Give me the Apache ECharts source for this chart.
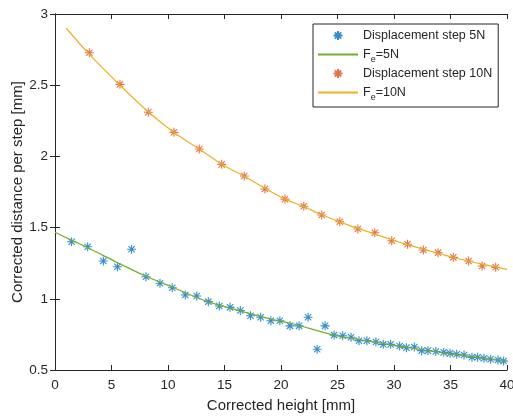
<!DOCTYPE html>
<html style="height: 100%">
<head>
  <meta charset="utf-8">
</head>
<body style="height: 100%; margin: 0; background: #fff">
  <div id="container" style="width: 513px; height: 418px"></div>

  <script src="https://cdn.jsdelivr.net/npm/echarts@6/dist/echarts.min.js"></script>
  <script>
    // measured points, 5N steps
    var x5 = [1.47, 2.89, 4.28, 5.52, 6.78, 8.05, 9.29, 10.38, 11.53, 12.54, 13.57, 14.54, 15.49, 16.4, 17.3, 18.2, 19.1, 19.9, 20.8, 21.6, 22.4, 23.2, 23.9, 24.7, 25.46, 26.2, 26.9, 27.6, 28.4, 29.05, 29.7, 30.5, 31.1, 31.8, 32.45, 33.0, 33.7, 34.4, 34.96, 35.55, 36.2, 36.9, 37.4, 37.96, 38.55, 39.2, 39.7];
    var y5 = [1.401, 1.366, 1.265, 1.225, 1.348, 1.155, 1.109, 1.078, 1.027, 1.02, 0.98, 0.949, 0.94, 0.918, 0.881, 0.87, 0.846, 0.846, 0.81, 0.81, 0.87, 0.646, 0.81, 0.745, 0.741, 0.73, 0.706, 0.706, 0.697, 0.68, 0.68, 0.669, 0.657, 0.662, 0.636, 0.636, 0.63, 0.624, 0.617, 0.61, 0.605, 0.589, 0.589, 0.582, 0.575, 0.57, 0.563];

    // measured points, 10N steps
    var x10 = [3.04, 5.75, 8.26, 10.53, 12.77, 14.75, 16.75, 18.58, 20.35, 22.02, 23.6, 25.2, 26.8, 28.3, 29.8, 31.2, 32.6, 33.9, 35.25, 36.6, 37.8, 39.0];
    var y10 = [2.728, 2.506, 2.31, 2.169, 2.052, 1.944, 1.862, 1.771, 1.70, 1.65, 1.588, 1.541, 1.49, 1.464, 1.408, 1.383, 1.343, 1.324, 1.291, 1.265, 1.23, 1.221];

    // fitted curves
    var fitX5 = [0, 1.5, 3, 5.5, 8, 10.4, 13.5, 16.4, 19, 21, 24.8, 28, 31, 34, 37, 40];
    var fitY5 = [1.467, 1.41, 1.355, 1.255, 1.16, 1.081, 0.98, 0.915, 0.86, 0.825, 0.743, 0.70, 0.66, 0.625, 0.592, 0.563];
    var fitX10 = [1, 3, 5.75, 8.3, 10.5, 12.8, 14.75, 16.75, 18.6, 20.35, 22, 23.6, 25.2, 26.8, 28.3, 29.8, 31.2, 32.6, 34, 35.25, 36.6, 37.8, 40];
    var fitY10 = [2.90, 2.72, 2.50, 2.31, 2.17, 2.05, 1.945, 1.86, 1.775, 1.70, 1.648, 1.59, 1.54, 1.495, 1.455, 1.415, 1.38, 1.348, 1.318, 1.29, 1.265, 1.243, 1.207];

    var names = ['Displacement step 5N', 'Fe=5N', 'Displacement step 10N', 'Fe=10N'];

    function zip(a, b) {
      return a.map(function (v, i) { return [v, b[i]]; });
    }

    var star = 'path://M0,5L10,5M5,0L5,10M1.5,1.5L8.5,8.5M1.5,8.5L8.5,1.5';
    var ink = '#262626';
    var font = 'Liberation Sans';

    var chart = echarts.init(document.getElementById('container'), null, { renderer: 'canvas' });

    var frameAxis = {
      axisLine: { show: true, lineStyle: { color: ink, width: 1 } },
      axisTick: { show: true, inside: true, length: 5, lineStyle: { color: ink } },
      splitLine: { show: false }
    };

    // legend entries; line entries get no symbol on the sample
    var legendData = names.map(function (n) {
      if (n.indexOf('Fe') === 0) {
        return { name: n, itemStyle: { opacity: 0 } };
      }
      return { name: n };
    });

    var option = {
      animation: false,
      textStyle: { fontFamily: font },
      grid: { left: 55, right: 6, top: 14, bottom: 48, outerBoundsMode: 'none', containLabel: false },
      legend: {
        orient: 'vertical',
        left: 313,
        top: 24,
        padding: [2, 6, 5, 4],
        itemGap: 0,
        itemWidth: 40,
        itemHeight: 9,
        borderColor: ink,
        borderWidth: 1,
        backgroundColor: '#fff',
        data: legendData,
        formatter: function (n) {
          if (n.indexOf('Fe') === 0) return '{n|F}{s|e}{n|' + n.slice(2) + '}';
          return '{n|' + n + '}';
        },
        textStyle: {
          fontFamily: font,
          fontSize: 12.5,
          color: ink,
          lineHeight: 19,
          rich: {
            n: { fontSize: 12.5, fontFamily: font, color: ink },
            s: { fontSize: 9, fontFamily: font, color: ink, lineHeight: 10, verticalAlign: 'bottom' }
          }
        }
      },
      xAxis: [
        Object.assign({
          type: 'value', min: 0, max: 40, interval: 5,
          name: 'Corrected height [mm]', nameLocation: 'middle', nameGap: 28,
          nameTextStyle: { fontSize: 15, color: ink, fontFamily: font },
          axisLabel: { fontSize: 13.5, color: ink, margin: 8, fontFamily: font }
        }, frameAxis),
        Object.assign({
          type: 'value', min: 0, max: 40, interval: 5, position: 'top',
          axisLabel: { show: false }
        }, frameAxis)
      ],
      yAxis: [
        Object.assign({
          type: 'value', min: 0.5, max: 3, interval: 0.5,
          name: 'Corrected distance per step [mm]', nameLocation: 'middle', nameGap: 30,
          nameMoveOverlap: false,
          nameTextStyle: { fontSize: 15, color: ink, fontFamily: font },
          axisLabel: { fontSize: 13.5, color: ink, margin: 7, fontFamily: font }
        }, frameAxis),
        Object.assign({
          type: 'value', min: 0.5, max: 3, interval: 0.5, position: 'right',
          axisLabel: { show: false }
        }, frameAxis)
      ],
      series: [
        {
          name: names[0], type: 'scatter', data: zip(x5, y5),
          symbol: star, symbolSize: 9,
          itemStyle: { color: 'none', borderColor: '#0072BD', borderWidth: 1.1 }
        },
        {
          name: names[1], type: 'line', data: zip(fitX5, fitY5),
          symbol: 'none', smooth: 0.3,
          lineStyle: { color: '#77AC30', width: 1.2 },
          itemStyle: { color: '#77AC30' }
        },
        {
          name: names[2], type: 'scatter', data: zip(x10, y10),
          symbol: star, symbolSize: 9,
          itemStyle: { color: 'none', borderColor: '#D95319', borderWidth: 1.1 }
        },
        {
          name: names[3], type: 'line', data: zip(fitX10, fitY10),
          symbol: 'none', smooth: 0.3,
          lineStyle: { color: '#EDB120', width: 1.2 },
          itemStyle: { color: '#EDB120' }
        }
      ]
    };

    chart.setOption(option);
    window.addEventListener('resize', chart.resize);
  </script>
</body>
</html>
